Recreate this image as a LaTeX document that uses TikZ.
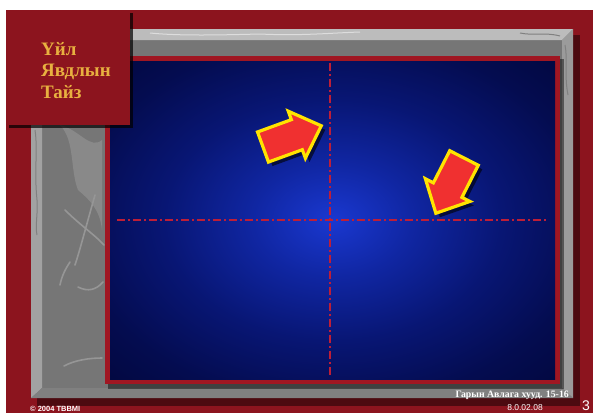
\documentclass[tikz,border=0pt]{standalone}
\usepackage{fontspec}
\setmainfont{Liberation Serif}
\newfontfamily\sansf{Liberation Sans}
\usetikzlibrary{calc}
\definecolor{bgred}{RGB}{140,20,30}
\definecolor{bordred}{RGB}{160,22,34}
\definecolor{gold}{RGB}{232,176,64}
\definecolor{framegray}{RGB}{118,118,118}
\definecolor{bevtop}{RGB}{188,188,188}
\definecolor{bevleft}{RGB}{162,162,162}
\definecolor{bevright}{RGB}{155,155,155}
\definecolor{bevbot}{RGB}{128,128,128}
\definecolor{streak}{RGB}{150,150,150}
\definecolor{cA}{RGB}{26,56,208}
\definecolor{cB}{RGB}{16,38,162}
\definecolor{cC}{RGB}{8,22,116}
\definecolor{cD}{RGB}{4,12,80}
\definecolor{cE}{RGB}{1,6,56}
\definecolor{cF}{RGB}{0,3,42}
\definecolor{dashred}{RGB}{190,30,55}
\definecolor{arrred}{RGB}{240,48,48}
\definecolor{arryel}{RGB}{255,228,0}
\pgfdeclareradialshading{panelshade}{\pgfpoint{0bp}{0bp}}{color(0bp)=(cA); color(9bp)=(cB); color(19bp)=(cC); color(29bp)=(cD); color(40bp)=(cE); color(50bp)=(cF)}
\tikzset{
  guide/.style={dashred, line width=1.2pt, dash pattern=on 8pt off 3pt on 2pt off 3pt},
  arrshadow/.pic={
    \fill[black, opacity=0.6]
      (0,-16) -- (36,-16) -- (36,-25) -- (62,0) -- (36,25) -- (36,16) -- (0,16) -- cycle;
  },
  arrbody/.pic={
    \draw[arryel, fill=arrred, line width=3.2pt, line join=miter]
      (0,-16) -- (36,-16) -- (36,-25) -- (62,0) -- (36,25) -- (36,16) -- (0,16) -- cycle;
  },
  streakline/.style={streak, line width=1.6pt, line cap=round},
  whitetxt/.style={text=white, inner sep=0pt}
}
\begin{document}
\begin{tikzpicture}[x=1pt,y=-1pt]
\useasboundingbox (0,0) rectangle (593,413);
\fill[white] (0,0) rectangle (593,413);
% background
\fill[bgred] (6,10) rectangle (593,413);
% frame shadow
\fill[black, opacity=0.45] (37,35) rectangle (580,406);
% frame
\fill[framegray] (31,29) rectangle (573,398);
\fill[bevtop] (31,29) -- (573,29) -- (562,40) -- (42,40) -- cycle;
\fill[bevleft] (31,29) -- (42,40) -- (42,388) -- (31,398) -- cycle;
\fill[bevright] (573,29) -- (573,398) -- (562,388) -- (562,40) -- cycle;
\fill[bevbot] (31,398) -- (573,398) -- (562,388) -- (42,388) -- cycle;
% texture streaks
\fill[streak, opacity=0.6] (60,125) .. controls (75,140) and (70,170) .. (78,190) .. controls (90,200) and (100,210) .. (102,230) -- (102,140) .. controls (90,150) and (80,130) .. (60,125) -- cycle;
\draw[streakline] (65,210) .. controls (80,225) and (95,235) .. (104,245);
\draw[streakline] (95,195) .. controls (85,230) and (80,250) .. (75,265);
\draw[streakline] (60,285) .. controls (62,275) and (66,268) .. (70,262);
\draw[streakline] (78,287) .. controls (88,292) and (96,290) .. (103,282);
\draw[streakline] (64,366) .. controls (75,360) and (90,358) .. (102,358);
\draw[bevbot, line width=1pt] (35,130) .. controls (38,150) and (34,170) .. (37,200) .. controls (38,215) and (35,225) .. (37,235);
\draw[white, opacity=0.5, line width=1pt] (150,33) .. controls (180,36) and (220,35) .. (260,34) .. controls (300,36) and (330,33) .. (360,32);
\draw[bevbot, line width=1pt] (520,33) .. controls (535,36) and (545,32) .. (560,36);
\draw[bevbot, line width=1pt] (565,45) .. controls (568,60) and (564,75) .. (568,95);
% panel shadow
\fill[black, opacity=0.45] (108,59) rectangle (564,389);
% panel
\fill[bordred] (105,56) rectangle (560,384);
\shade[shading=panelshade] (110,61) rectangle (555,379);
% guides
\coordinate (vt) at (330,63);
\coordinate (vb) at (330,377);
\coordinate (hl) at (117,220);
\coordinate (hr) at (548,220);
\draw[guide] (vt) -- (vb);
\draw[guide] (hl) -- (hr);
% arrows
\pic[rotate=20] at (267,151) {arrshadow};
\pic[rotate=20] at (263,147) {arrbody};
\pic[rotate=243] at (468,162) {arrshadow};
\pic[rotate=243] at (464,158) {arrbody};
% title box
\fill[black, opacity=0.7] (9,13) rectangle (133,128);
\fill[bgred] (6,10) rectangle (130,125);
\node[text=gold, anchor=north west, inner sep=0pt, align=left, font=\fontsize{19}{21.5}\selectfont\bfseries] (title) at (41,42) {Үйл\\Явдлын\\Тайз};
% footer
\node[whitetxt, anchor=base east, font=\fontsize{9.8}{11}\selectfont\bfseries] (src) at (569,397) {Гарын Авлага хууд. 15-16};
\node[whitetxt, anchor=base, font=\sansf\fontsize{8.5}{10}\selectfont] (date) at (525,410) {8.0.02.08};
\node[whitetxt, anchor=base, font=\sansf\fontsize{14}{14}\selectfont] (pg) at (586,410) {3};
\node[whitetxt, anchor=base west, font=\sansf\fontsize{7.5}{9}\selectfont\bfseries] (copy) at (30,411) {© 2004 TBBMI};
\end{tikzpicture}
\end{document}
